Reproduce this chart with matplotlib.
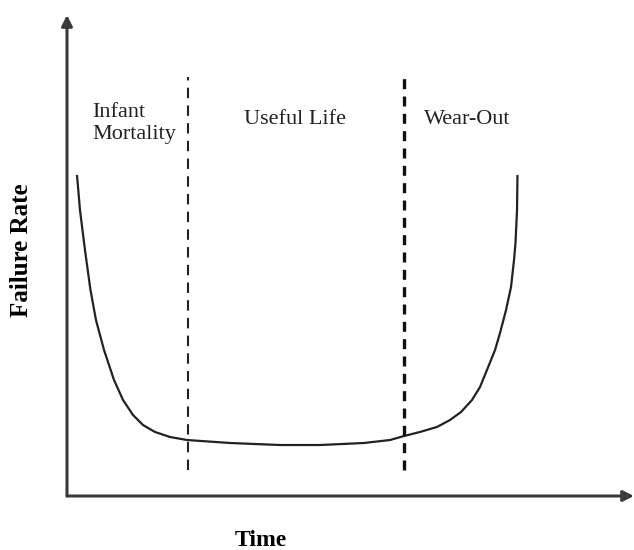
import matplotlib
matplotlib.use("Agg")
import matplotlib.pyplot as plt

# bathtub curve (time and failure rate in arbitrary units)
time = [1.76, 2.29, 3.17, 4.14, 5.11, 6.53, 8.29, 9.88, 11.64, 13.40, 15.52,
        18.17, 21.16, 28.75, 37.57, 44.62, 52.38, 56.97, 59.44, 62.26, 65.26,
        67.55, 69.49, 71.43, 72.84, 74.07, 75.49, 76.37, 77.43, 78.31, 78.84,
        79.10, 79.37, 79.45]
rate = [66.74, 59.46, 51.14, 42.83, 36.59, 30.35, 24.12, 19.96, 16.84, 14.76,
        13.31, 12.27, 11.64, 11.02, 10.60, 10.60, 11.02, 11.64, 12.47, 13.31,
        14.35, 15.80, 17.46, 19.96, 22.66, 26.20, 30.35, 33.89, 38.67, 43.45,
        49.06, 52.60, 59.46, 66.74]

# phase boundaries
boundaries = [21.3, 59.4]
boundary_span = (5.4, 87.1)

# phase labels: (text, time, rate, horizontal alignment)
phases = [
    ("Infant\nMortality", 4.4, 77.5, "left"),
    ("Useful Life", 40.2, 78.2, "center"),
    ("Wear-Out", 63.0, 78.2, "left"),
]

plt.rcParams["font.family"] = ["Liberation Serif", "DejaVu Serif"]

fig = plt.figure(figsize=(6.34, 5.5), dpi=100)
ax = fig.add_axes([67 / 634, 54 / 550, 567 / 634, 481 / 550])
ax.set_xlim(0, 100)
ax.set_ylim(0, 100)
ax.axis("off")

# axes drawn as arrows
arrow = dict(arrowstyle="-|>", color="#3a3a3a", lw=2.2, mutation_scale=16,
             shrinkA=0, shrinkB=0)
ax.annotate("", xy=(0, 1), xytext=(0, 0), xycoords="axes fraction",
            arrowprops=arrow, annotation_clip=False)
ax.annotate("", xy=(1, 0), xytext=(0, 0), xycoords="axes fraction",
            arrowprops=arrow, annotation_clip=False)

ax.plot(time, rate, color="#222222", lw=1.6, solid_joinstyle="round",
        solid_capstyle="butt")

ax.vlines(boundaries[0], *boundary_span, colors="#222222", lw=1.5,
          linestyles=(0, (5, 3.5)))
ax.vlines(boundaries[1], *boundary_span, colors="#111111", lw=2.4,
          linestyles=(0, (3, 2.2)))

for text, t, r, ha in phases:
    ax.text(t, r, text, ha=ha, va="center", fontsize=16, color="#222222",
            linespacing=1.2)

fig.text(261 / 634, 1 - 541 / 550, "Time", ha="center", va="center",
         fontsize=17, fontweight="bold")
fig.text(22 / 634, 1 - 250 / 550, "Failure Rate", ha="center", va="center",
         rotation=90, fontsize=18, fontweight="bold")

fig.savefig("out.png", dpi=100)
